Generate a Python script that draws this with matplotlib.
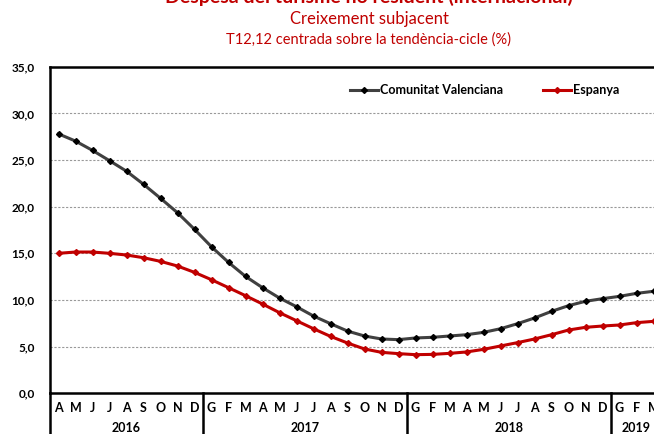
import matplotlib
matplotlib.use('Agg')
import matplotlib.pyplot as plt
import matplotlib.transforms as mtransforms

plt.rcParams['font.family'] = ['Lato', 'DejaVu Sans']

# mesos (abril 2016 - març 2019)
mesos = ['A', 'M', 'J', 'J', 'A', 'S', 'O', 'N', 'D',
         'G', 'F', 'M', 'A', 'M', 'J', 'J', 'A', 'S', 'O', 'N', 'D',
         'G', 'F', 'M', 'A', 'M', 'J', 'J', 'A', 'S', 'O', 'N', 'D',
         'G', 'F', 'M']
anys = ['2016', '2017', '2018', '2019']
mesos_per_any = [9, 12, 12, 3]

comunitat_valenciana = [27.8, 27.03, 26.03, 24.93, 23.8, 22.4, 20.9, 19.35, 17.57,
                        15.7, 14.03, 12.53, 11.32, 10.21, 9.28, 8.28, 7.46, 6.67, 6.14, 5.82, 5.75,
                        5.93, 6.0, 6.14, 6.28, 6.53, 6.92, 7.46, 8.07, 8.78, 9.39, 9.86, 10.14,
                        10.39, 10.71, 10.93]
espanya = [15.0, 15.14, 15.14, 15.0, 14.82, 14.53, 14.14, 13.64, 12.96,
           12.17, 11.32, 10.46, 9.57, 8.64, 7.78, 6.92, 6.1, 5.39, 4.75, 4.39, 4.25,
           4.14, 4.17, 4.28, 4.43, 4.71, 5.07, 5.43, 5.82, 6.28, 6.78, 7.07, 7.21,
           7.32, 7.57, 7.71]

vermell = '#C00000'
gris = '#404040'

W, H = 654, 434
fig = plt.figure(figsize=(W / 100, H / 100), dpi=100)
esq, dalt, baix = 50, 66.7, 393.3
ample = 36 * 17
ax = fig.add_axes([esq / W, 1 - baix / H, ample / W, (baix - dalt) / H])

x = list(range(len(mesos)))
ax.plot(x, comunitat_valenciana, color=gris, lw=2.2, marker='D', ms=3,
        mfc='black', mec='black', label='Comunitat Valenciana')
ax.plot(x, espanya, color=vermell, lw=2.2, marker='D', ms=3,
        mfc=vermell, mec=vermell, label='Espanya')

ax.set_xlim(-0.5, len(mesos) - 0.5)
ax.set_ylim(0, 35)
ax.set_yticks([0, 5, 10, 15, 20, 25, 30, 35])
ax.set_yticklabels([('%.1f' % v).replace('.', ',') for v in ax.get_yticks()],
                   fontweight='bold', fontsize=8.5)
ax.tick_params(axis='y', length=0, pad=11)
ax.set_xticks([])
for v in [5, 10, 15, 20, 25, 30]:
    ax.axhline(v, color='#999999', lw=0.8, ls=(0, (2, 1.5)), zorder=0)

for s in ['left', 'bottom', 'top']:
    ax.spines[s].set_linewidth(1.8)
    ax.spines[s].set_color('black')
ax.spines['right'].set_visible(False)

# eix de mesos i anys
trans = mtransforms.blended_transform_factory(ax.transData, ax.transAxes)
for i, m in enumerate(mesos):
    ax.text(i, -0.045, m, transform=trans, ha='center', va='center',
            fontsize=9, fontweight='bold')
inici = -0.5
ax.plot([inici, inici], [0, -0.2], transform=trans, color='black', lw=1.8, clip_on=False)
for a, n in zip(anys, mesos_per_any):
    fi = inici + n
    ax.text((inici + fi) / 2, -0.106, a, transform=trans, ha='center', va='center',
            fontsize=9, fontweight='bold')
    ax.plot([fi, fi], [0, -0.2], transform=trans, color='black', lw=1.8, clip_on=False)
    inici = fi

ax.legend(loc='center left', bbox_to_anchor=(350 / W, 1 - 90 / H),
          bbox_transform=fig.transFigure, ncol=2, frameon=False, borderpad=0,
          borderaxespad=0, handlelength=2.2, handletextpad=0.2, columnspacing=3.2,
          prop={'weight': 'bold', 'size': 9})

fig.text(369 / W, 1 - 3 / H, 'Despesa del turisme no resident (internacional)',
         ha='center', va='baseline', fontsize=14, fontweight='bold', color=vermell)
fig.text(369 / W, 1 - 19 / H, 'Creixement subjacent', ha='center', va='center',
         fontsize=12, color=vermell)
fig.text(369 / W, 1 - 40 / H, 'T12,12 centrada sobre la tendència-cicle (%)',
         ha='center', va='center', fontsize=10.5, color=vermell)

fig.savefig('out.png', dpi=100)
